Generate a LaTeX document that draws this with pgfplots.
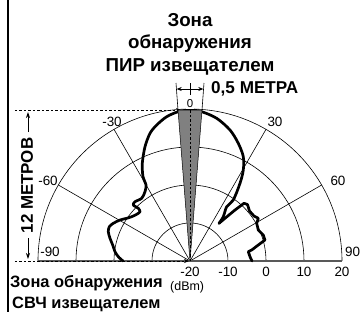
\documentclass[border=0pt]{standalone}
\usepackage{pgfplots}
\pgfplotsset{compat=1.18}
\usetikzlibrary{arrows.meta}
\usepackage{fontspec}
\setmainfont{Liberation Sans}
\begin{document}
\begin{tikzpicture}
\begin{axis}[
  x=1bp, y=1bp,
  xmin=-152, xmax=152, ymin=0, ymax=152,
  axis x line*=bottom, axis y line=none,
  axis line style={draw=none},
  xtick={0,38,76,114,152},
  xticklabels={-20,-10,0,10,20},
  major tick length=0pt,
  xticklabel style={font=\fontsize{13.5}{13.5}\selectfont, yshift=-3bp},
  clip=false,
]
% bounding box corners
\coordinate (BL) at (axis cs:-190,-51);
\coordinate (TR) at (axis cs:170,261);
% grid rings
\draw[line width=0.6bp] (axis cs:38,0) arc[start angle=0,end angle=180,radius=38bp];
\draw[line width=0.6bp] (axis cs:76,0) arc[start angle=0,end angle=180,radius=76bp];
\draw[line width=0.6bp] (axis cs:114,0) arc[start angle=0,end angle=180,radius=114bp];
\draw[line width=0.6bp] (axis cs:152,0) arc[start angle=0,end angle=180,radius=152bp];
% spokes
\draw[line width=0.6bp] (axis cs:0,0) -- ++(30:152bp);
\draw[line width=0.6bp] (axis cs:0,0) -- ++(60:152bp);
\draw[line width=0.6bp] (axis cs:0,0) -- ++(120:152bp);
\draw[line width=0.6bp] (axis cs:0,0) -- ++(150:152bp);
% baseline
\draw[black!65, line width=1.4bp] (axis cs:-152,0) -- (axis cs:152,0);
% dashed extent lines
\draw[line width=0.6bp, dash pattern=on 2.5bp off 2bp, -{Stealth[length=5bp,width=4bp]}] (axis cs:-175,0) -- (axis cs:-1,0);
\draw[line width=0.6bp, dash pattern=on 2.5bp off 2bp, -{Stealth[length=5bp,width=4bp]}] (axis cs:-175,151) -- (axis cs:-9,151);
% microwave pattern
\addplot[black, line width=2.7bp, smooth, tension=0.5, line join=round, line cap=round] coordinates {
(-67,0) (-71.7,4.3) (-75,9.3) (-77.3,16) (-80,22.7) (-81.7,29.3) (-80.7,34.3)
(-76.7,37.7) (-70,41) (-63.3,42.7) (-58.3,44.3) (-53.3,46.7) (-50,49.3)
(-51.7,52.7) (-56.7,56) (-55,59.3) (-48.3,62.7) (-45,69.3) (-44,76)
(-47,84.3) (-47.7,97.7) (-45,114.3) (-40,127.7) (-33.3,136) (-23.3,144.3)
(-11.7,149.3) (0,151) (11.7,149.3) (26.7,142.7) (40,131) (48.3,117.7)
(53.3,104.3) (53.3,91) (50,77.7) (43.3,61) (36.7,54.3) (33.3,44.3) (29,37.7)
};
\addplot[black, line width=2.7bp, line join=round, line cap=round] coordinates {
(29,37.7) (35,42.7) (45,51) (54,57.7) (57.5,56.5) (59.5,50) (64,45)
(68.3,42.7) (66.7,37.7) (68.3,31) (73.3,26) (75,21) (68.3,16) (61.7,11)
(58.3,9.3) (60,4.3) (62,0)
};
% PIR wedge
\addplot[fill=black!50, draw=black, line width=0.5bp] coordinates {(0,0) (-12,151) (12,151)} -- cycle;
\draw[line width=0.6bp, dash pattern=on 2.5bp off 2bp] (axis cs:0,0) -- (axis cs:0,162);
\draw[line width=0.6bp] (axis cs:0,166) -- (axis cs:0,178);
% extension lines and dimension
\draw[line width=0.6bp] (axis cs:-12,151) -- (axis cs:-14,178);
\draw[line width=0.6bp] (axis cs:12,151) -- (axis cs:14,178);
\draw[line width=0.6bp, {Stealth[length=5bp,width=4bp]}-{Stealth[length=5bp,width=4bp]}] (axis cs:-13.3,172) -- (axis cs:13.3,172);
\node[font=\fontsize{11.5}{11.5}\selectfont, fill=white, inner sep=0.5bp] at (axis cs:0,157) {0};
\node[font=\fontsize{17.2}{17.2}\selectfont\bfseries, anchor=west, inner sep=0pt] at (axis cs:21,172) {0,5 МЕТРА};
% title
\node[font=\fontsize{18.8}{22.5}\selectfont\bfseries, align=center] at (axis cs:0,217) {Зона\\обнаружения\\ПИР извещателем};
% angle labels
\node[font=\fontsize{13.5}{13.5}\selectfont] at (axis cs:-78,139) {-30};
\node[font=\fontsize{13.5}{13.5}\selectfont] at (axis cs:85,139) {30};
\node[font=\fontsize{13.5}{13.5}\selectfont] at (axis cs:-142,80) {-60};
\node[font=\fontsize{13.5}{13.5}\selectfont] at (axis cs:148,80) {60};
\node[font=\fontsize{13.5}{13.5}\selectfont] at (axis cs:-140,9) {-90};
\node[font=\fontsize{13.5}{13.5}\selectfont, anchor=west, inner sep=0pt] at (axis cs:155,9) {90};
% left height label
\node[font=\fontsize{17}{17}\selectfont\bfseries, rotate=90] at (axis cs:-163,75.5) {12 МЕТРОВ};
\draw[line width=0.8bp, -{Stealth[length=6bp,width=4bp]}] (axis cs:-162,129) -- (axis cs:-162,149);
\draw[line width=0.8bp, -{Stealth[length=6bp,width=4bp]}] (axis cs:-162,23) -- (axis cs:-162,2);
% border line
\draw[line width=1.8bp] (axis cs:-182,-51) -- (axis cs:-182,261);
% bottom texts
\node[font=\fontsize{16.5}{16.5}\selectfont\bfseries, anchor=west, inner sep=0pt] at (axis cs:-180,-22) {Зона обнаружения};
\node[font=\fontsize{12.5}{12.5}\selectfont, anchor=west, inner sep=0pt] at (axis cs:-20,-26) {(dBm)};
\node[font=\fontsize{16.5}{16.5}\selectfont\bfseries, anchor=west, inner sep=0pt] at (axis cs:-178,-43) {СВЧ извещателем};
\end{axis}
\pgfresetboundingbox
\useasboundingbox (BL) rectangle (TR);
\end{tikzpicture}
\end{document}
